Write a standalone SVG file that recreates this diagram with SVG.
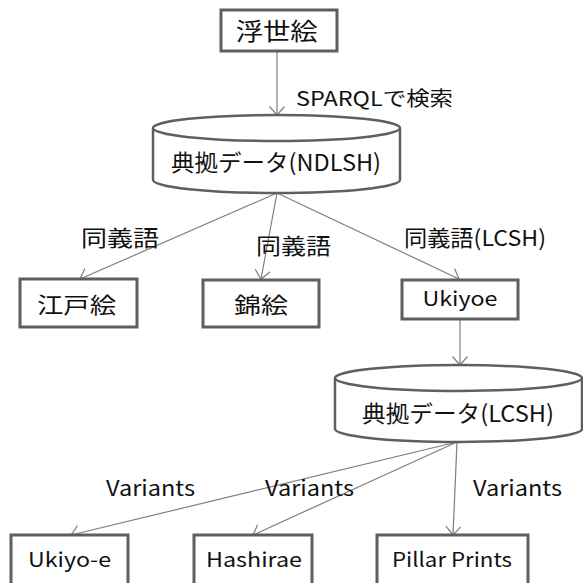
<svg xmlns="http://www.w3.org/2000/svg" width="583" height="583" viewBox="0 0 583 583">
<style>
.box{fill:#fff;stroke:#5f5f5f;stroke-width:3}
.cyl{fill:#fff;stroke:#5f5f5f;stroke-width:2.5}
.edge{fill:none;stroke:#7f7f7f;stroke-width:1.2}
text{font-family:"Noto Sans CJK JP","Noto Sans",sans-serif;fill:#111;lengthAdjust:spacingAndGlyphs}
</style>
<defs>
<marker id="arr" markerUnits="userSpaceOnUse" viewBox="0 0 10 16" refX="9.5" refY="8" markerWidth="10" markerHeight="16" orient="auto">
<path d="M1,0.5 L9.5,8 L1,15.5" fill="none" stroke="#7f7f7f" stroke-width="1.2"/>
</marker>
</defs>
<rect width="583" height="583" fill="#fff"/>
<g id="connectors">
<line class="edge" x1="277" y1="51" x2="277" y2="115" marker-end="url(#arr)"/>
<line class="edge" x1="277" y1="193" x2="80" y2="279" marker-end="url(#arr)"/>
<line class="edge" x1="277" y1="193" x2="261" y2="279" marker-end="url(#arr)"/>
<line class="edge" x1="277" y1="193" x2="459" y2="279" marker-end="url(#arr)"/>
<line class="edge" x1="460" y1="319" x2="460" y2="365" marker-end="url(#arr)"/>
<line class="edge" x1="457" y1="442" x2="71" y2="535" marker-end="url(#arr)"/>
<line class="edge" x1="457" y1="442" x2="253" y2="535" marker-end="url(#arr)"/>
<line class="edge" x1="457" y1="442" x2="453" y2="535" marker-end="url(#arr)"/>
<text x="296" y="106" font-size="20" textLength="157" lengthAdjust="spacingAndGlyphs">SPARQLで検索</text>
<text x="81" y="245.5" font-size="22" textLength="78" lengthAdjust="spacingAndGlyphs">同義語</text>
<text x="256" y="253.5" font-size="22" textLength="75" lengthAdjust="spacingAndGlyphs">同義語</text>
<text x="404" y="245.5" font-size="22" textLength="142" lengthAdjust="spacingAndGlyphs">同義語(LCSH)</text>
<text x="106" y="496" font-size="21" textLength="89" lengthAdjust="spacingAndGlyphs">Variants</text>
<text x="265" y="496" font-size="21" textLength="89" lengthAdjust="spacingAndGlyphs">Variants</text>
<text x="473" y="496" font-size="21" textLength="89" lengthAdjust="spacingAndGlyphs">Variants</text>
</g>
<g id="ukiyoe-jp">
<rect class="box" x="221" y="10" width="116" height="41"/>
<text x="235.7" y="40" font-size="24" textLength="82" lengthAdjust="spacingAndGlyphs">浮世絵</text>
</g>
<g id="ndlsh">
<path class="cyl" d="M153,128 A123.5,13 0 0 1 400,128 L400,180 A123.5,13 0 0 1 153,180 Z"/>
<path class="cyl" d="M153,128 A123.5,13 0 0 0 400,128" fill="none"/>
<text x="171" y="171" font-size="23" textLength="210" lengthAdjust="spacingAndGlyphs">典拠データ(NDLSH)</text>
</g>
<g id="edoe">
<rect class="box" x="20" y="279" width="117" height="48"/>
<text x="37" y="312.5" font-size="22" textLength="79" lengthAdjust="spacingAndGlyphs">江戸絵</text>
</g>
<g id="nishikie">
<rect class="box" x="203" y="280" width="116" height="47"/>
<text x="234" y="312.5" font-size="22" textLength="54" lengthAdjust="spacingAndGlyphs">錦絵</text>
</g>
<g id="ukiyoe">
<rect class="box" x="402" y="280" width="116" height="39"/>
<text x="422.5" y="306" font-size="20" textLength="75" lengthAdjust="spacingAndGlyphs">Ukiyoe</text>
</g>
<g id="lcsh">
<path class="cyl" d="M335,378 A123.5,13 0 0 1 582,378 L582,429 A123.5,13 0 0 1 335,429 Z"/>
<path class="cyl" d="M335,378 A123.5,13 0 0 0 582,378" fill="none"/>
<text x="362" y="421.5" font-size="23" textLength="192" lengthAdjust="spacingAndGlyphs">典拠データ(LCSH)</text>
</g>
<g id="ukiyo-e">
<rect class="box" x="11" y="535" width="117" height="60"/>
<text x="28" y="567" font-size="20" textLength="83" lengthAdjust="spacingAndGlyphs">Ukiyo-e</text>
</g>
<g id="hashirae">
<rect class="box" x="194" y="535" width="118" height="60"/>
<text x="206" y="567" font-size="20" textLength="96" lengthAdjust="spacingAndGlyphs">Hashirae</text>
</g>
<g id="pillar-prints">
<rect class="box" x="377" y="535" width="151" height="60"/>
<text x="392" y="567" font-size="20" textLength="120" lengthAdjust="spacingAndGlyphs">Pillar Prints</text>
</g>
</svg>
